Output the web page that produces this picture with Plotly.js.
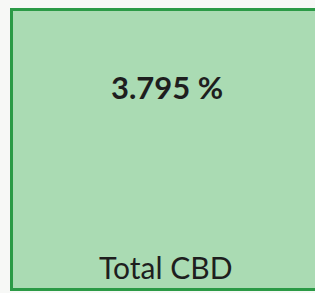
<!DOCTYPE html>
<html>
<head>
<meta charset="utf-8">
<script src="https://cdn.plot.ly/plotly-3.0.1.min.js"></script>
<style>
html,body{margin:0;padding:0;background:#f7f8f6;}
#chart{width:315px;height:293px;}
</style>
</head>
<body>
<div id="chart"></div>
<script>
const metricLabels = ["Total CBD"];
const metricValues = [3.795];
const metricUnits = ["%"];

const valueText = metricValues.map((v, i) => v.toFixed(3) + " " + metricUnits[i]);

const layout = {
  width: 315,
  height: 293,
  margin: {l: 0, r: 0, t: 0, b: 0},
  paper_bgcolor: "#f7f8f6",
  plot_bgcolor: "rgba(0,0,0,0)",
  xaxis: {visible: false, range: [0, 315], fixedrange: true},
  yaxis: {visible: false, range: [293, 0], fixedrange: true},
  showlegend: false,
  shapes: [
    {type: "rect", xref: "x", yref: "y", x0: 11.5, x1: 320, y0: 9.5, y1: 289.5,
     fillcolor: "#aadbb3", line: {color: "#2b9a46", width: 3}, layer: "below"}
  ],
  annotations: [
    {x: 167, y: 87, xref: "x", yref: "y", text: "<b>" + valueText[0] + "</b>", showarrow: false,
     xanchor: "center", yanchor: "middle",
     font: {family: "Lato, sans-serif", size: 31, color: "#1e1e1e"}},
    {x: 165, y: 267, xref: "x", yref: "y", text: metricLabels[0], showarrow: false,
     xanchor: "center", yanchor: "middle",
     font: {family: "Lato, sans-serif", size: 30, color: "#1e1e1e"}}
  ]
};

Plotly.newPlot("chart", [], layout, {displayModeBar: false, staticPlot: true});
</script>
</body>
</html>
